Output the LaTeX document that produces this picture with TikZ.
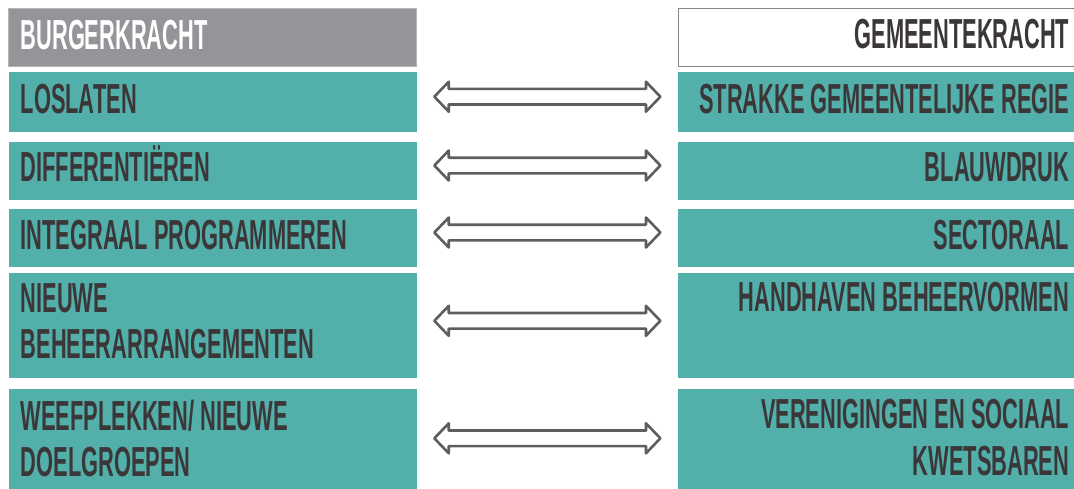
\documentclass[tikz,border=0pt]{standalone}
\usepackage{fontspec}
\newfontfamily\bebas{Liberation Sans}[UprightFont={* Bold},FakeStretch=0.52]
\definecolor{tealbox}{HTML}{53AFAA}
\definecolor{headgray}{HTML}{939598}
\definecolor{txtdark}{HTML}{3B3738}
\definecolor{arrgray}{HTML}{5E5E5E}
\definecolor{bordgray}{HTML}{858585}
\tikzset{
  box/.style={fill=tealbox, draw=none, anchor=north west, inner sep=0pt},
  lbox/.style={box, minimum width=407.7pt},
  rbox/.style={box, minimum width=396.3pt},
  lab/.style={font=\bebas\fontsize{42}{46.7}\selectfont, text=txtdark, inner sep=0pt},
  ltxt/.style={lab, anchor=base west, align=left},
  rtxt/.style={lab, anchor=base east, align=right},
  arrowline/.style={draw=arrgray, fill=white, line width=2.6pt, line join=round},
  dblarr/.pic={\path[arrowline] (-113,0) -- (-98.6,15) -- (-98.6,7.8) -- (98.6,7.8) -- (98.6,15) -- (113,0) -- (98.6,-15) -- (98.6,-7.8) -- (-98.6,-7.8) -- (-98.6,-15) -- cycle;}
}
\begin{document}
\begin{tikzpicture}[x=1pt,y=-1pt]
\useasboundingbox[fill=white] (0,0) rectangle (1074,488);
% headers
\node[box, fill=headgray, draw=headgray!70!white, line width=0.6pt, minimum width=408pt, minimum height=57.7pt] (hl) at (7.5,8.3) {};
\node[box, fill=white, draw=bordgray, line width=1pt, minimum width=395.3pt, minimum height=57.7pt] (hr) at (678.2,8.3) {};
\node[ltxt, text=white] (thl) at (20.5,49.3) {BURGERKRACHT};
\node[rtxt] (thr) at (1069.5,48.3) {GEMEENTEKRACHT};
% left boxes
\node[lbox, minimum height=60pt] (l1) at (9,72) {};
\node[lbox, minimum height=58.3pt] (l2) at (9,141.7) {};
\node[lbox, minimum height=58pt] (l3) at (9,209) {};
\node[lbox, minimum height=104.6pt] (l4) at (9,272.7) {};
\node[lbox, minimum height=100pt] (l5) at (9,388.3) {};
% right boxes
\node[rbox, minimum height=60pt] (r1) at (677.7,72) {};
\node[rbox, minimum height=58.3pt] (r2) at (677.7,141.7) {};
\node[rbox, minimum height=58pt] (r3) at (677.7,209) {};
\node[rbox, minimum height=104.6pt] (r4) at (677.7,272.7) {};
\node[rbox, minimum height=100pt] (r5) at (677.7,388.3) {};
% left texts (base anchor = last line's baseline)
\node[ltxt] (tl1) at (20.5,113.3) {LOSLATEN};
\node[ltxt] (tl2) at (20.5,181.7) {DIFFERENTIËREN};
\node[ltxt] (tl3) at (20.5,249) {INTEGRAAL PROGRAMMEREN};
\node[ltxt] (tl4) at (20.5,358.7) {NIEUWE\\BEHEERARRANGEMENTEN};
\node[ltxt] (tl5) at (20.5,476.7) {WEEFPLEKKEN/ NIEUWE\\DOELGROEPEN};
% right texts
\node[rtxt] (tr1) at (1069.5,113.3) {STRAKKE GEMEENTELIJKE REGIE};
\node[rtxt] (tr2) at (1069.5,181.3) {BLAUWDRUK};
\node[rtxt] (tr3) at (1069.5,249) {SECTORAAL};
\node[rtxt] (tr4) at (1069.5,311.7) {HANDHAVEN BEHEERVORMEN};
\node[rtxt] (tr5) at (1069.5,475) {VERENIGINGEN EN SOCIAAL\\KWETSBAREN};
% arrows
\coordinate (a1) at (547.35,96.7);
\coordinate (a2) at (547.35,165.5);
\coordinate (a3) at (547.35,232.5);
\coordinate (a4) at (547.35,320.8);
\coordinate (a5) at (547.35,438.3);
\foreach \a in {a1,a2,a3,a4,a5} { \pic at (\a) {dblarr}; }
\end{tikzpicture}
\end{document}
